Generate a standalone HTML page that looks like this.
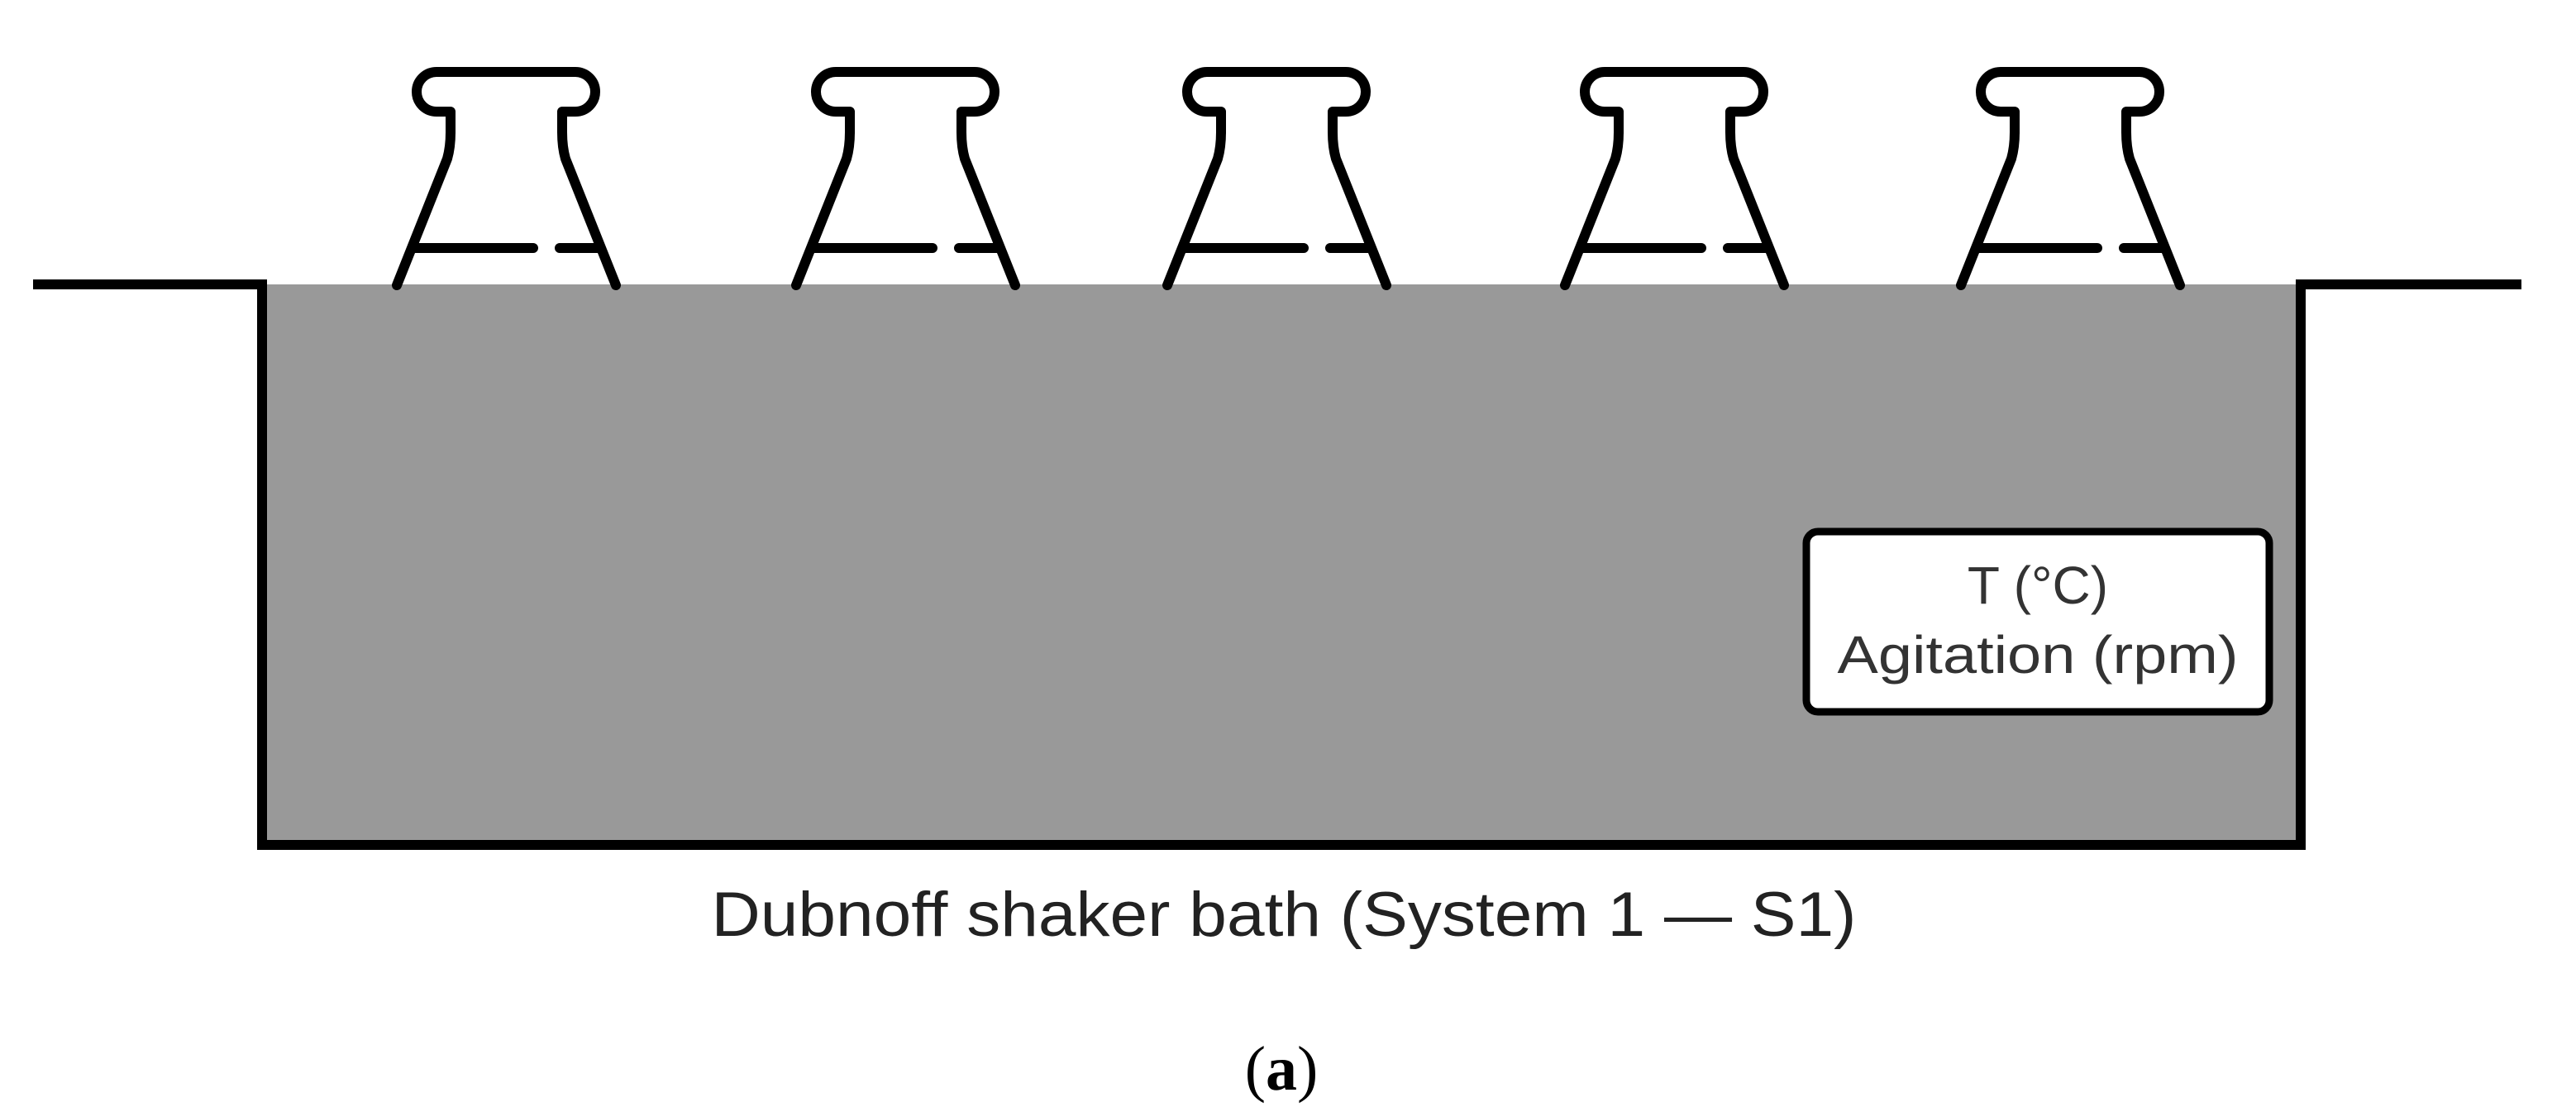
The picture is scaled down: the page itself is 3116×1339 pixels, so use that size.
<!DOCTYPE html>
<html><head><meta charset="utf-8"><style>
html,body{margin:0;padding:0;background:#fff;}
svg{display:block;}
</style></head><body>
<svg width="3116" height="1339" viewBox="0 0 3116 1339" xmlns="http://www.w3.org/2000/svg">
<defs>
<g id="flask" fill="none" stroke="#000" stroke-width="12" stroke-linecap="round" stroke-linejoin="round">
<path d="M-67,160 L-67,135 L-84,135 A24,24 0 0 1 -84,87 L84,87 A24,24 0 0 1 84,135 L68,135 L68,160 Q68,178 72,192 L133,345"/>
<path d="M-67,160 Q-67,178 -71,192 L-132,345"/>
<path d="M-110,300 L33,300 M65,300 L113,300"/>
</g>
</defs>
<rect x="317" y="344" width="2466" height="678" fill="#999"/>
<path d="M40,344 L317,344 L317,1022 L2783,1022 L2783,344 L3050,344" fill="none" stroke="#000" stroke-width="12"/>
<use href="#flask" transform="translate(612,0)"/>
<use href="#flask" transform="translate(1095,0)"/>
<use href="#flask" transform="translate(1544,0)"/>
<use href="#flask" transform="translate(2025,0)"/>
<use href="#flask" transform="translate(2504,0)"/>
<rect x="2185" y="643" width="560" height="218" rx="14" fill="#fff" stroke="#000" stroke-width="9"/>
<text x="2465" y="730" font-family="Liberation Sans, sans-serif" font-size="64" fill="#333" text-anchor="middle">T (°C)</text>
<text x="2465" y="814" font-family="Liberation Sans, sans-serif" font-size="64" fill="#333" text-anchor="middle" textLength="485" lengthAdjust="spacingAndGlyphs">Agitation (rpm)</text>
<text x="1553" y="1132" font-family="Liberation Sans, sans-serif" font-size="76" fill="#222" text-anchor="middle" textLength="1385" lengthAdjust="spacingAndGlyphs">Dubnoff shaker bath (System 1 — S1)</text>
<text x="1550" y="1318" font-family="Liberation Serif, serif" font-size="76" fill="#000" text-anchor="middle">(<tspan font-weight="bold">a</tspan>)</text>
</svg>
</body></html>
